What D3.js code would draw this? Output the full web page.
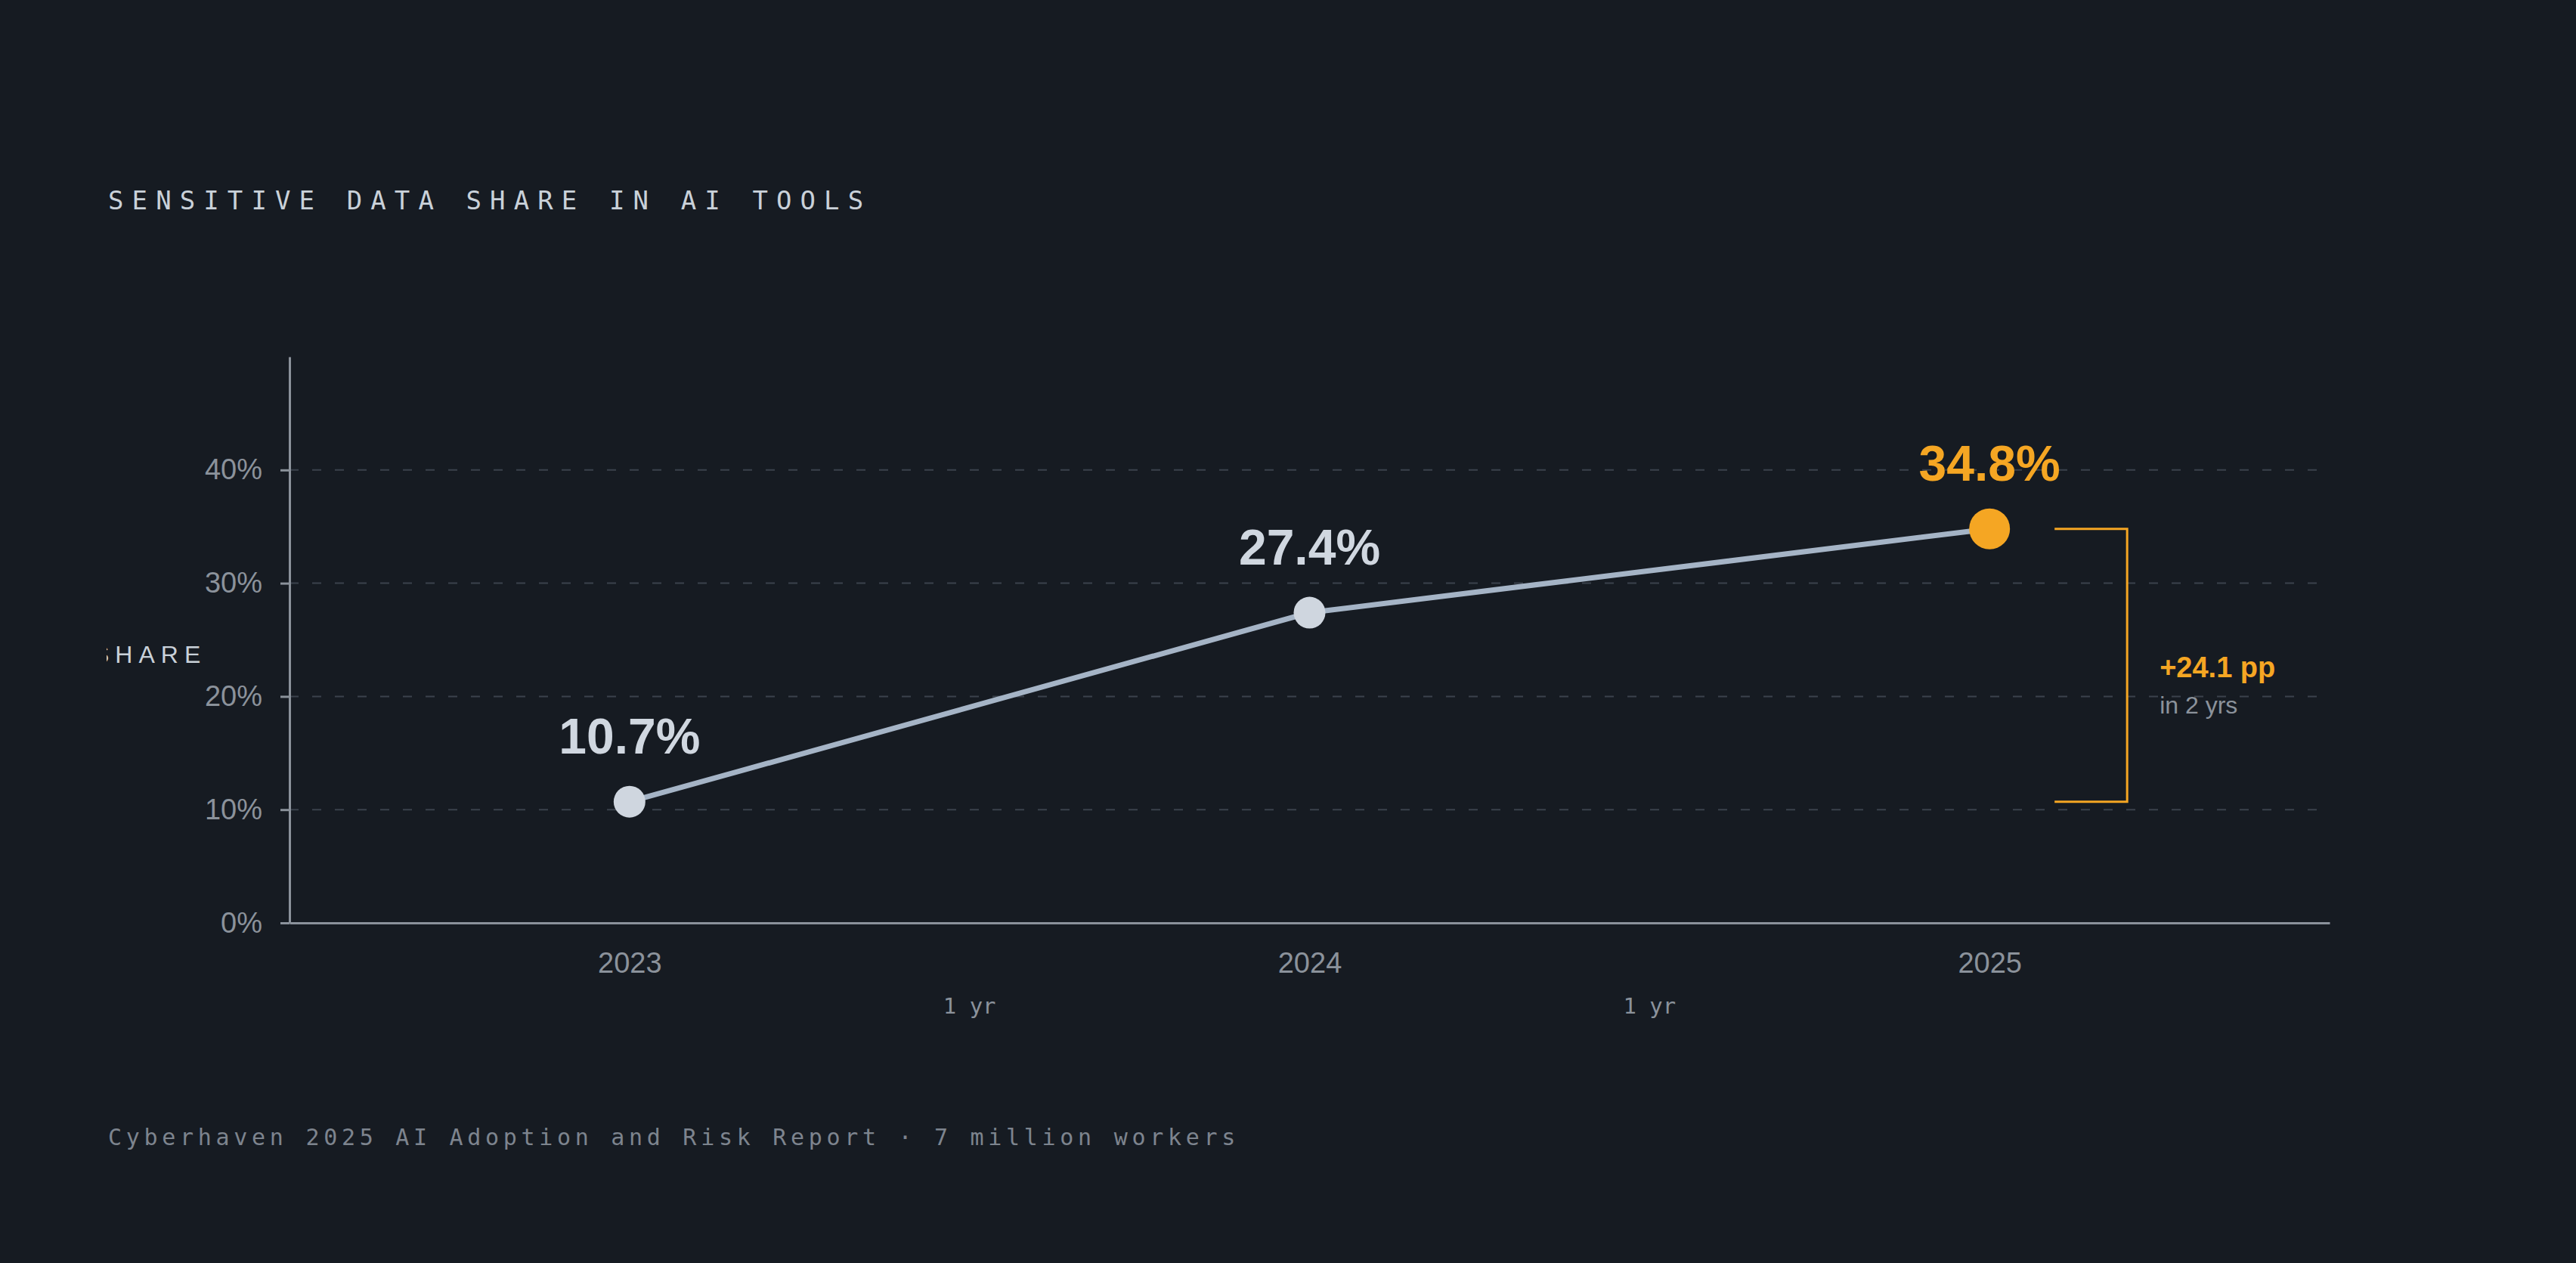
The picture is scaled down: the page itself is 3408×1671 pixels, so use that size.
<!DOCTYPE html>
<html>
<head>
<meta charset="utf-8">
<script src="https://cdn.jsdelivr.net/npm/d3@7"></script>
<style>
  html, body { margin: 0; padding: 0; background: #161b22; }
  svg { display: block; }
</style>
</head>
<body>
<svg id="chart" width="3408" height="1671"></svg>
<script>
// ---- data ----
const years = [2023, 2024, 2025];
const shares = [10.7, 27.4, 34.8];
const yTicks = [0, 10, 20, 30, 40];
const gapLabels = ["1 yr", "1 yr"];
const titleText = "SENSITIVE DATA SHARE IN AI TOOLS";
const yLabelText = "SHARE";
const footerText = "Cyberhaven 2025 AI Adoption and Risk Report · 7 million workers";
const deltaLabel = "+24.1 pp";
const deltaSub = "in 2 yrs";

const W = 3408, H = 1671;
const margin = { left: 383, top: 472, right: 326, bottom: 450 };
const iw = W - margin.left - margin.right;   // 2699
const ih = H - margin.top - margin.bottom;   // 749

const svg = d3.select("#chart");
svg.append("rect").attr("width", W).attr("height", H).attr("fill", "#161b22");

const x = d3.scaleLinear().domain([2022.5, 2025.5]).range([0, iw]);
const y = d3.scaleLinear().domain([0, 50]).range([ih, 0]);

// title
svg.append("text")
  .attr("x", 143).attr("y", 277)
  .attr("fill", "#c9d1d9")
  .attr("font-family", "'DejaVu Sans Mono', monospace")
  .attr("font-size", 34)
  .attr("letter-spacing", 11.1)
  .text(titleText);

// clipped y label
const defs = svg.append("defs");
defs.append("clipPath").attr("id", "lblclip")
  .append("rect").attr("x", 141).attr("y", 0).attr("width", 400).attr("height", H);
svg.append("text")
  .attr("clip-path", "url(#lblclip)")
  .attr("x", 123).attr("y", 877)
  .attr("fill", "#c9d1d9")
  .attr("font-family", "'Liberation Sans', Arial, sans-serif")
  .attr("font-size", 32)
  .attr("letter-spacing", 8)
  .text(yLabelText);

const g = svg.append("g").attr("transform", `translate(${margin.left},${margin.top})`);

// grid
g.append("g").selectAll("line").data(yTicks.filter(d => d > 0)).join("line")
  .attr("x1", 0).attr("x2", iw)
  .attr("y1", d => y(d)).attr("y2", d => y(d))
  .attr("stroke", "#3b424c").attr("stroke-width", 2)
  .attr("stroke-dasharray", "12,18");

// y axis
const yAxis = g.append("g")
  .call(d3.axisLeft(y).tickValues(yTicks).tickFormat(d => d + "%").tickSize(12).tickSizeOuter(0).tickPadding(24));
yAxis.select(".domain").attr("stroke", "#8b929b").attr("stroke-width", 3);
yAxis.selectAll(".tick line").attr("stroke", "#8b929b").attr("stroke-width", 3);
yAxis.selectAll(".tick text")
  .attr("fill", "#8b929b")
  .attr("font-family", "'Liberation Sans', Arial, sans-serif")
  .attr("font-size", 38);

// x axis
const xAxis = g.append("g").attr("transform", `translate(0,${ih})`)
  .call(d3.axisBottom(x).tickValues(years).tickFormat(d3.format("d")).tickSize(0).tickSizeOuter(0).tickPadding(39));
xAxis.select(".domain").attr("stroke", "#8b929b").attr("stroke-width", 3);
xAxis.selectAll(".tick text")
  .attr("fill", "#8b929b")
  .attr("font-family", "'Liberation Sans', Arial, sans-serif")
  .attr("font-size", 38);

// gap labels
g.append("g").selectAll("text").data(gapLabels).join("text")
  .attr("x", (d, i) => x((years[i] + years[i + 1]) / 2))
  .attr("y", ih + 120)
  .attr("text-anchor", "middle")
  .attr("fill", "#8b929b")
  .attr("font-family", "'DejaVu Sans Mono', monospace")
  .attr("font-size", 29)
  .text(d => d);

// line
const pts = years.map((yr, i) => ({ yr, v: shares[i], last: i === years.length - 1 }));
g.append("path").datum(pts)
  .attr("fill", "none")
  .attr("stroke", "#a5b4c6")
  .attr("stroke-width", 7)
  .attr("d", d3.line().x(d => x(d.yr)).y(d => y(d.v)));

// points
g.append("g").selectAll("circle").data(pts).join("circle")
  .attr("cx", d => x(d.yr)).attr("cy", d => y(d.v))
  .attr("r", d => d.last ? 27 : 21)
  .attr("fill", d => d.last ? "#f5a623" : "#cfd6df");

// value labels
g.append("g").selectAll("text").data(pts).join("text")
  .attr("x", d => x(d.yr)).attr("y", d => y(d.v) - 64)
  .attr("text-anchor", "middle")
  .attr("fill", d => d.last ? "#f5a623" : "#d0d7e0")
  .attr("font-family", "'Liberation Sans', Arial, sans-serif")
  .attr("font-weight", "bold")
  .attr("font-size", 66)
  .text(d => d.v.toFixed(1) + "%");

// bracket
const bx = x(years[2]) + 182;
const bl = 96;
const yTop = y(shares[2]), yBot = y(shares[0]);
g.append("path")
  .attr("d", `M${bx - bl},${yTop}H${bx}V${yBot}H${bx - bl}`)
  .attr("fill", "none").attr("stroke", "#f5a623").attr("stroke-width", 3);

g.append("text")
  .attr("x", bx + 43).attr("y", (yTop + yBot) / 2 + 16)
  .attr("fill", "#f5a623")
  .attr("font-family", "'Liberation Sans', Arial, sans-serif")
  .attr("font-weight", "bold")
  .attr("font-size", 38)
  .text(deltaLabel);
g.append("text")
  .attr("x", bx + 43).attr("y", (yTop + yBot) / 2 + 64)
  .attr("fill", "#8b929b")
  .attr("font-family", "'Liberation Sans', Arial, sans-serif")
  .attr("font-size", 32)
  .text(deltaSub);

// footer
svg.append("text")
  .attr("x", 143).attr("y", 1515)
  .attr("fill", "#7d848e")
  .attr("font-family", "'DejaVu Sans Mono', monospace")
  .attr("font-size", 30)
  .attr("letter-spacing", 5.7)
  .text(footerText);
</script>
</body>
</html>
